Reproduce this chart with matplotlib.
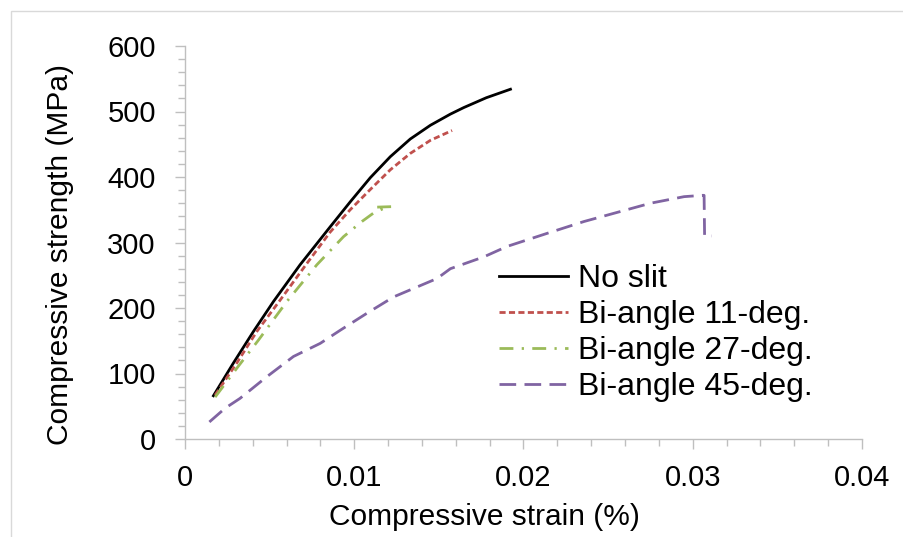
import matplotlib
matplotlib.use('Agg')
import matplotlib.pyplot as plt
import matplotlib.ticker as ticker
from matplotlib.patches import Rectangle

plt.rcParams['font.family'] = ['Liberation Sans', 'DejaVu Sans']

# ── data ─────────────────────────────────────────────────────────────────────
no_slit_x = [0.00168, 0.00286, 0.00404, 0.00523, 0.0068, 0.00858, 0.00976, 0.01095,
             0.01213, 0.01331, 0.0145, 0.01568, 0.01647, 0.0178, 0.01923]
no_slit_y = [66, 116, 164, 210, 266, 324, 362, 399, 431, 458, 479, 496, 506, 521, 534]

bi11_x = [0.00178, 0.00306, 0.00424, 0.00562, 0.0072, 0.00858, 0.00976, 0.01095,
          0.01213, 0.01331, 0.0145, 0.01578]
bi11_y = [67, 116, 164, 212, 268, 316, 350, 381, 411, 436, 456, 471]

bi27_x = [0.00178, 0.00306, 0.00434, 0.00602, 0.00779, 0.00937, 0.01045, 0.01114,
          0.01174, 0.01134, 0.01252]
bi27_y = [64, 108, 151, 210, 266, 309, 332, 345, 352, 354, 355]

bi45_x = [0.00144, 0.00237, 0.00325, 0.00483, 0.00641, 0.00799, 0.00917, 0.01075,
          0.01233, 0.01489, 0.01568, 0.01765, 0.01903, 0.0214, 0.02357, 0.02751,
          0.02949, 0.03057, 0.03067, 0.0307, 0.0311]
bi45_y = [26, 47, 62, 95, 126, 146, 166, 192, 217, 245, 260, 278, 294, 314, 332,
          360, 370, 372, 372, 309, 310]

labels = ['No slit', 'Bi-angle 11-deg.', 'Bi-angle 27-deg.', 'Bi-angle 45-deg.']

# ── figure ───────────────────────────────────────────────────────────────────
fig = plt.figure(figsize=(9.04, 5.37), dpi=100)
ax = fig.add_axes([185 / 904, 1 - 439 / 537, (862 - 185) / 904, (439 - 46) / 537])

# chart border like the Excel frame
fig.patches.append(Rectangle((10.5 / 904, -0.1), 1.2, 1 - 10.5 / 537 + 0.1,
                             transform=fig.transFigure, fill=False,
                             edgecolor='#d9d9d9', lw=1))

ax.plot(no_slit_x, no_slit_y, color='black', lw=2, label=labels[0])
ax.plot(bi11_x, bi11_y, color='#c0504d', lw=2, dashes=(2.2, 1.2), label=labels[1])
ax.plot(bi27_x, bi27_y, color='#9bbb59', lw=2, dashes=(5, 3, 0.8, 3), label=labels[2])
ax.plot(bi45_x, bi45_y, color='#8064a2', lw=2, dashes=(6, 3), label=labels[3])

ax.set_xlim(0, 0.04)
ax.set_ylim(0, 600)
ax.xaxis.set_major_locator(ticker.MultipleLocator(0.01))
ax.xaxis.set_minor_locator(ticker.MultipleLocator(0.002))
ax.yaxis.set_major_locator(ticker.MultipleLocator(100))
ax.yaxis.set_minor_locator(ticker.MultipleLocator(20))
ax.xaxis.set_major_formatter(ticker.FuncFormatter(lambda v, p: '0' if v == 0 else f'{v:g}'))

for s in ['top', 'right']:
    ax.spines[s].set_visible(False)
for s in ['left', 'bottom']:
    ax.spines[s].set_color('#bfbfbf')
    ax.spines[s].set_linewidth(1)

ax.tick_params(which='both', direction='out', color='#bfbfbf', width=1)
ax.tick_params(which='major', length=7, labelsize=21, pad=11)
ax.tick_params(which='minor', length=5)
ax.tick_params(axis='y', which='major', pad=14)

ax.set_xlabel('Compressive strain (%)', fontsize=21.5)
ax.set_ylabel('Compressive strength (MPa)', fontsize=21.5)
ax.xaxis.set_label_coords(0.443, -0.163)
ax.yaxis.set_label_coords(-0.164, 0.47)

ax.legend(loc='upper left', bbox_to_anchor=(499 / 904, 1 - 264 / 537),
          bbox_transform=fig.transFigure, frameon=False, fontsize=23,
          handlelength=2.16, handletextpad=0.31, labelspacing=0.19,
          borderpad=0, borderaxespad=0)

fig.savefig('out.png', dpi=100)
